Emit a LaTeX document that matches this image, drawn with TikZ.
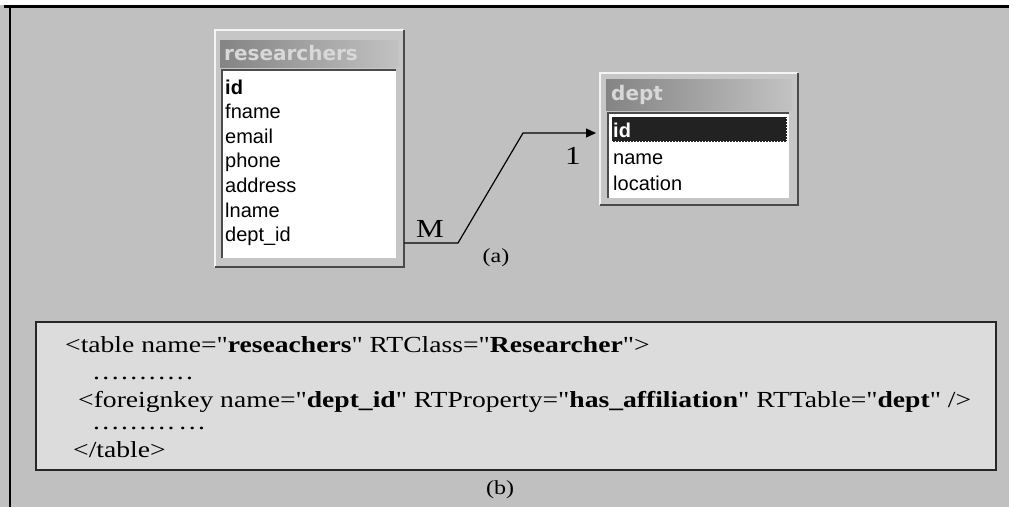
\documentclass[tikz,border=0pt]{standalone}
\usepackage{fontspec}
\setmainfont{Liberation Serif}[Ligatures=TeXOff]
\setsansfont{Liberation Sans}
\newfontfamily\titlefont{DejaVu Sans}
\newfontfamily\xmlfont{Liberation Serif}[Ligatures=TeXOff, FakeStretch=1.2]
\usetikzlibrary{arrows.meta,positioning,calc}
\definecolor{canvasgray}{HTML}{C0C0C0}
\definecolor{panelgray}{HTML}{DCDCDC}
\definecolor{framegray}{HTML}{C6C6C6}
\definecolor{titledark}{HTML}{848484}
\definecolor{titlelight}{HTML}{C2C2C2}
\definecolor{titleink}{HTML}{D8D8D8}
\definecolor{edgedark}{HTML}{4A4A4A}
\definecolor{edgelight}{HTML}{F4F4F4}
\definecolor{keyblack}{HTML}{222222}
\newcommand{\sdot}{.\kern2.4pt}
\tikzset{
  framebox/.style={fill=framegray, inner sep=0pt, anchor=north west},
  hiedge/.style={edgelight, line width=2pt},
  loedge/.style={edgedark, line width=2pt},
  titlebar/.style={left color=titledark, right color=titlelight, inner sep=0pt, anchor=north west},
  titletext/.style={titleink, font=\titlefont\bfseries\fontsize{20}{24}\selectfont, inner sep=0pt},
  listbox/.style={fill=white, inner sep=0pt, anchor=north west},
  insetedge/.style={gray!60!black, line width=2pt},
  fieldtext/.style={font=\sffamily\fontsize{20}{24}\selectfont, inner sep=0pt, anchor=base west},
  keyrow/.style={fill=keyblack, draw=white, dotted, line width=1pt, inner sep=0pt, anchor=north west},
  relation/.style={black, line width=1.2pt, -{Triangle[length=10pt,width=9pt]}},
  cardtext/.style={font=\xmlfont\fontsize{26}{28}\selectfont, inner sep=0pt},
  captext/.style={font=\xmlfont\fontsize{20}{22}\selectfont, inner sep=0pt},
  panel/.style={fill=panelgray, draw=black!85, line width=1.8pt, inner sep=0pt, anchor=north west},
  xmltext/.style={font=\xmlfont\fontsize{23}{28}\selectfont, inner sep=0pt, anchor=base west}
}
\begin{document}
\begin{tikzpicture}[x=1pt,y=-1pt]
  \useasboundingbox (0,0) rectangle (1009,507);
  \fill[canvasgray] (0,5) rectangle (1009,507);
  \draw[black, line width=2.5pt] (4,6.5) -- (1009,6.5);
  \draw[black, line width=2pt] (10,6.5) -- (10,507);
  % researchers table
  \node[framebox, minimum width=189pt, minimum height=237pt] (rframe) at (215,30) {};
  \draw[hiedge] (rframe.south west) -- (rframe.north west) -- (rframe.north east);
  \draw[loedge] (rframe.south west) -- (rframe.south east) -- (rframe.north east);
  \node[titlebar, minimum width=178pt, minimum height=27pt] (rbar) at (220,40) {};
  \node[titletext, anchor=west] (rtitle) at (224,53.5) {researchers};
  \node[listbox, minimum width=174pt, minimum height=188pt] (rlist) at (222,70) {};
  \draw[insetedge] (rlist.south west) -- (rlist.north west) -- (rlist.north east);
  \node[fieldtext, font=\sffamily\bfseries\fontsize{20}{24}\selectfont] (rid) at (225,94) {id};
  \foreach \fname/\fid [count=\i] in {fname/fname,email/email,phone/phone,address/address,lname/lname,dept\_id/deptid}
    \node[fieldtext] (r\fid) at (225,94+24.6*\i) {\fname};
  % dept table
  \node[framebox, minimum width=198pt, minimum height=132pt] (dframe) at (600,73) {};
  \draw[hiedge] (dframe.south west) -- (dframe.north west) -- (dframe.north east);
  \draw[loedge] (dframe.south west) -- (dframe.south east) -- (dframe.north east);
  \node[titlebar, minimum width=186pt, minimum height=31pt] (dbar) at (606,79) {};
  \node[titletext, anchor=west] (dtitle) at (611,95) {dept};
  \node[listbox, minimum width=181pt, minimum height=85pt] (dlist) at (608,113) {};
  \draw[insetedge] (dlist.south west) -- (dlist.north west) -- (dlist.north east);
  \node[keyrow, minimum width=175pt, minimum height=25pt] (did) at (611,116) {};
  \node[fieldtext, white, font=\sffamily\bfseries\fontsize{20}{24}\selectfont] (didtext) at (613,137) {id};
  \node[fieldtext] (dname) at (613,164) {name};
  \node[fieldtext] (dlocation) at (613,190) {location};
  % relation M : 1
  \coordinate (mbend) at (458,243);
  \coordinate (onebend) at (523,133);
  \draw[relation] (rframe.east |- mbend) -- (mbend) -- (onebend) -- ([xshift=-4pt]dframe.west |- onebend);
  \node[cardtext] (mlabel) at (430,229) {M};
  \node[cardtext] (onelabel) at (573,156) {1};
  \node[captext] (capa) at (496,258) {(a)};
  % mapping file
  \node[panel, minimum width=960pt, minimum height=148pt] (xmlpanel) at (35,321) {};
  \node[xmltext] (xline1) at (65,352) {<table name="\textbf{reseachers}" RTClass="\textbf{Researcher}">};
  \node[xmltext] (xline2) at (93,379) {\sdot\sdot\sdot\sdot\sdot\sdot\sdot\sdot\sdot\sdot.};
  \node[xmltext] (xline3) at (78,407) {<foreignkey name="\textbf{dept\_id}" RTProperty="\textbf{has\_affiliation}" RTTable="\textbf{dept}" />};
  \node[xmltext] (xline4) at (93,429) {\sdot\sdot\sdot\sdot\sdot\sdot\sdot\sdot.\kern5pt\sdot\sdot.};
  \node[xmltext] (xline5) at (73,457) {</table>};
  \node[captext] (capb) at (500,490) {(b)};
\end{tikzpicture}
\end{document}
